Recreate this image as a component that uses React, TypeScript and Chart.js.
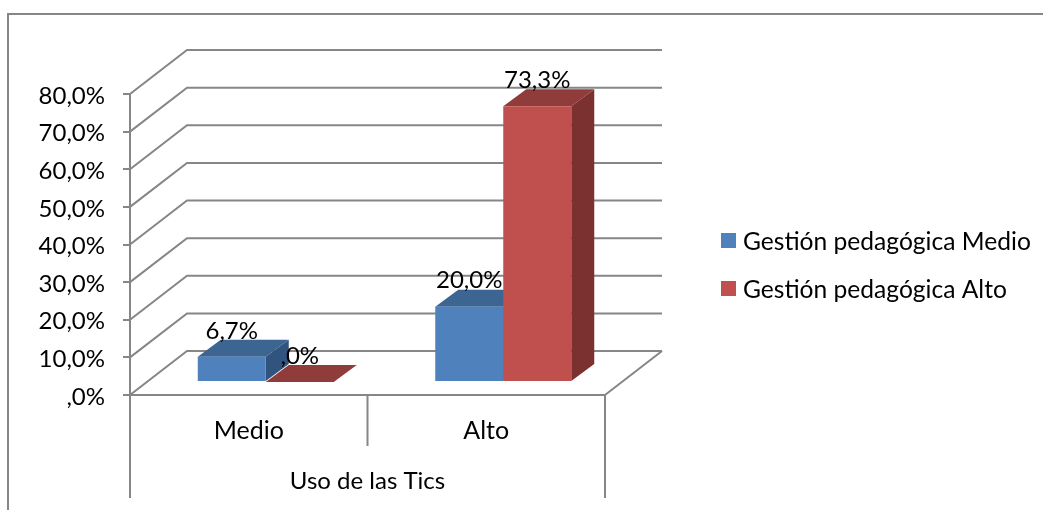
import React, { useEffect, useRef } from "react";
import { Chart, registerables } from "chart.js";

Chart.register(...registerables);

const categories = ["Medio", "Alto"];
const medioValues = [6.7, 20.0];
const altoValues = [0.0, 73.3];
const seriesLabels = ["Gestión pedagógica Medio", "Gestión pedagógica Alto"];
const axisTitle = "Uso de las Tics";
const faceColors = ["#4F81BD", "#C0504D"];
const topColors = ["#3D6591", "#8F3C3B"];
const sideColors = ["#31547F", "#7B3130"];

const FONT = "Lato, Carlito, Calibri, sans-serif";
const FONT_SIZE = 24;
const AXIS = "#868686";
const AXIS_W = 2;

const formatPct = (v: number) => {
  const s = v.toFixed(1).replace(".", ",");
  return s.startsWith("0,") ? s.slice(1) + "%" : s + "%";
};

const chart3d = {
  id: "chart3d",
  beforeDraw(chart: any) {
    const { ctx } = chart;
    ctx.save();
    ctx.strokeStyle = AXIS;
    ctx.lineWidth = 2;
    ctx.beginPath();
    ctx.moveTo(8, 510);
    ctx.lineTo(8, 14);
    ctx.lineTo(1043, 14);
    ctx.stroke();
    ctx.restore();
  },
  beforeDatasetsDraw(chart: any) {
    const { ctx, chartArea: a, scales } = chart;
    const wallDx = 57;
    const wallDy = -44;
    ctx.save();
    ctx.strokeStyle = AXIS;
    ctx.lineWidth = AXIS_W;
    scales.y.ticks.forEach((t: any) => {
      const y = scales.y.getPixelForValue(t.value);
      ctx.beginPath();
      ctx.moveTo(a.left, y);
      ctx.lineTo(a.left + wallDx, y + wallDy);
      ctx.lineTo(a.right + wallDx, y + wallDy);
      ctx.stroke();
    });
    ctx.beginPath();
    ctx.moveTo(a.right + wallDx, a.bottom + wallDy);
    ctx.lineTo(a.right, a.bottom);
    ctx.stroke();
    // category separators below the floor
    const mid = (scales.x.getPixelForValue(0) + scales.x.getPixelForValue(1)) / 2;
    ctx.beginPath();
    ctx.moveTo(mid, a.bottom);
    ctx.lineTo(mid, a.bottom + 51);
    ctx.moveTo(a.left, a.bottom);
    ctx.lineTo(a.left, a.bottom + 103);
    ctx.moveTo(a.right, a.bottom);
    ctx.lineTo(a.right, a.bottom + 103);
    ctx.stroke();
    ctx.restore();
  },
  beforeDatasetDraw() {
    return false;
  },
  afterDatasetsDraw(chart: any) {
    const { ctx } = chart;
    const shiftX = 17;
    const shiftY = -13;
    const dx = 23;
    const dy = -17;
    chart.data.datasets.forEach((_: any, i: number) => {
      const meta = chart.getDatasetMeta(i);
      ctx.save();
      ctx.translate(shiftX, shiftY);
      meta.data.forEach((el: any) => {
        const l = el.x - el.width / 2;
        const r = el.x + el.width / 2;
        const t = el.y;
        const b = el.base;
        ctx.fillStyle = topColors[i];
        ctx.beginPath();
        ctx.moveTo(l, t);
        ctx.lineTo(r, t);
        ctx.lineTo(r + dx, t + dy);
        ctx.lineTo(l + dx, t + dy);
        ctx.closePath();
        ctx.fill();
        ctx.fillStyle = sideColors[i];
        ctx.beginPath();
        ctx.moveTo(r, t);
        ctx.lineTo(r + dx, t + dy);
        ctx.lineTo(r + dx, b + dy);
        ctx.lineTo(r, b);
        ctx.closePath();
        ctx.fill();
      });
      meta.controller.draw();
      ctx.restore();
    });
    // value labels
    ctx.save();
    ctx.font = `${FONT_SIZE}px ${FONT}`;
    ctx.fillStyle = "#000";
    ctx.textAlign = "center";
    ctx.textBaseline = "middle";
    chart.data.datasets.forEach((ds: any, i: number) => {
      chart.getDatasetMeta(i).data.forEach((el: any, j: number) => {
        ctx.fillText(formatPct(ds.data[j]), el.x + shiftX, el.y + shiftY - 26);
      });
    });
    // legend
    ctx.textAlign = "left";
    ctx.font = `24.6px ${FONT}`;
    const rowY = [241, 289];
    chart.data.datasets.forEach((ds: any, i: number) => {
      ctx.fillStyle = faceColors[i];
      ctx.fillRect(721, rowY[i] - 8, 15, 15);
      ctx.fillStyle = "#000";
      ctx.fillText(ds.label, 743, rowY[i] + 1);
    });
    ctx.restore();
  },
};

export default function App() {
  const ref = useRef<HTMLCanvasElement>(null);
  useEffect(() => {
    const chart = new Chart(ref.current!, {
      type: "bar",
      data: {
        labels: categories,
        datasets: [
          { label: seriesLabels[0], data: medioValues, backgroundColor: faceColors[0] },
          { label: seriesLabels[1], data: altoValues, backgroundColor: faceColors[1] },
        ],
      },
      plugins: [chart3d],
      options: {
        responsive: false,
        animation: false,
        layout: { padding: { left: 0, top: 94, right: 438, bottom: 0 } },
        plugins: { legend: { display: false }, tooltip: { enabled: false } },
        datasets: { bar: { barPercentage: 1, categoryPercentage: 0.5726, clip: false } as any },
        scales: {
          x: {
            afterFit: (s: any) => {
              s.height = 115;
            },
            grid: { display: false },
            border: { display: true, color: AXIS, width: AXIS_W },
            ticks: {
              color: "#000",
              font: { family: FONT, size: 25 },
              padding: 13,
              maxRotation: 0,
              autoSkip: false,
            },
            title: {
              display: true,
              text: axisTitle,
              color: "#000",
              font: { family: FONT, size: FONT_SIZE },
              padding: { top: 0, bottom: 14 },
            },
          },
          y: {
            min: 0,
            max: 80,
            afterFit: (s: any) => {
              s.width = 130;
            },
            grid: { drawOnChartArea: false, color: AXIS, lineWidth: AXIS_W, tickLength: 7 },
            border: { display: true, color: AXIS, width: AXIS_W },
            ticks: {
              stepSize: 10,
              color: "#000",
              font: { family: FONT, size: FONT_SIZE },
              padding: 18,
              labelOffset: 2,
              callback: (v: any) => formatPct(Number(v)),
            },
          },
        },
      } as any,
    });
    return () => chart.destroy();
  }, []);
  return (
    <div style={{ position: "absolute", left: 0, top: 0 }}>
      <canvas ref={ref} width={1043} height={510} style={{ display: "block" }} />
    </div>
  );
}
